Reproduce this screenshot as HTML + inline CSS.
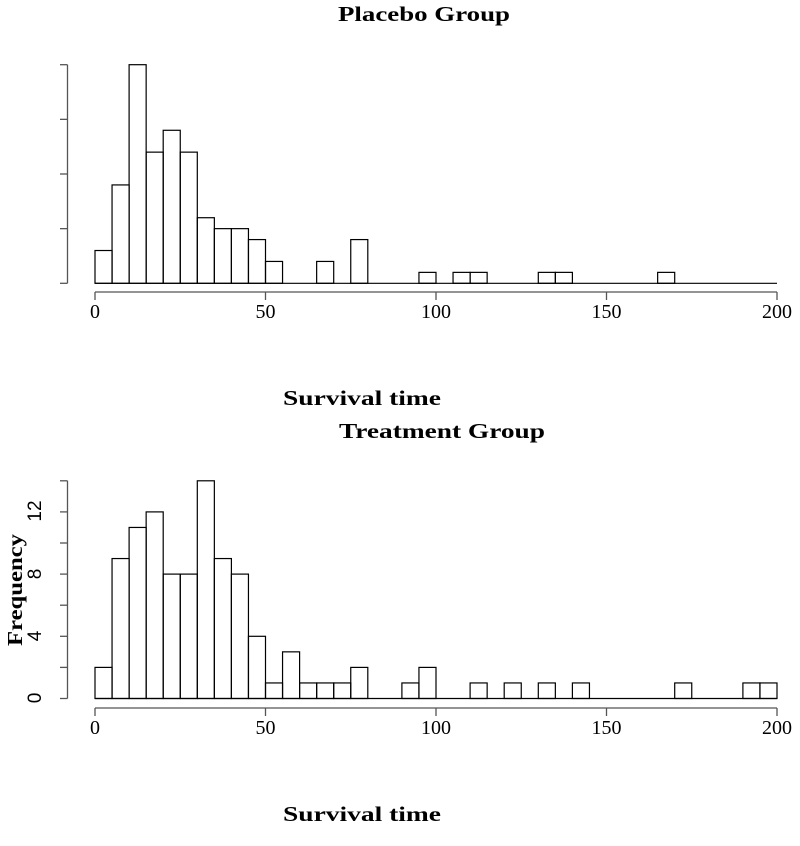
<!DOCTYPE html>
<html><head><meta charset="utf-8"><style>body{margin:0;background:#fff}svg{display:block}</style></head>
<body>
<svg id="s" width="800" height="846" xmlns="http://www.w3.org/2000/svg" font-family="Liberation Serif, serif">
<g font-weight="bold" font-size="21" text-anchor="middle">
<text x="424" y="21" textLength="172" lengthAdjust="spacingAndGlyphs">Placebo Group</text>
<text x="362" y="405" textLength="158" lengthAdjust="spacingAndGlyphs">Survival time</text>
<text x="442" y="438" textLength="206" lengthAdjust="spacingAndGlyphs">Treatment Group</text>
<text x="362" y="821" textLength="158" lengthAdjust="spacingAndGlyphs">Survival time</text>
<text transform="translate(22,590) rotate(-90)" textLength="112" lengthAdjust="spacingAndGlyphs">Frequency</text>
</g>
<g id="g" fill="none" stroke="#000" stroke-width="1.2"></g>
<g id="ax" stroke="#555" stroke-width="1.3" fill="none"></g>
<g id="t" font-size="20" text-anchor="middle"></g>
<g font-family="Liberation Sans, sans-serif" font-size="19" text-anchor="middle">
<text transform="translate(41,698) rotate(-90)">0</text>
<text transform="translate(41,636) rotate(-90)">4</text>
<text transform="translate(41,574) rotate(-90)">8</text>
<text transform="translate(41,511) rotate(-90)">12</text>
</g>
</svg>
<script>
(function(){
var g=document.getElementById('g'),ax=document.getElementById('ax'),t=document.getElementById('t');
function add(p,tag,a){var e=document.createElementNS('http://www.w3.org/2000/svg',tag);for(var k in a)e.setAttribute(k,a[k]);p.appendChild(e);return e;}
var x0=95,bw=17.05;
function hist(vals,base,unit){vals.forEach(function(v,i){if(v>0)add(g,'rect',{x:x0+i*bw,y:base-v*unit,width:bw,height:v*unit});});}
var topv=[3,9,20,12,14,12,6,5,5,4,2,0,0,2,0,4,0,0,0,1,0,1,1,0,0,0,1,1,0,0,0,0,0,1,0,0,0,0,0,0];
var botv=[2,9,11,12,8,8,14,9,8,4,1,3,1,1,1,2,0,0,1,2,0,0,1,0,1,0,1,0,1,0,0,0,0,0,1,0,0,0,1,1];
hist(topv,283.3,10.93);hist(botv,698.5,15.55);
add(g,'line',{x1:95,y1:283.3,x2:777,y2:283.3});add(g,'line',{x1:95,y1:698.5,x2:777,y2:698.5});
function xaxis(y){add(ax,'line',{x1:95,y1:y,x2:777,y2:y});[0,50,100,150,200].forEach(function(v){var x=95+v*3.41;add(ax,'line',{x1:x,y1:y,x2:x,y2:y+8});var e=add(t,'text',{x:x,y:y+26});e.textContent=v;});}
xaxis(292);xaxis(708);
function yaxis(a,b,n){add(ax,'line',{x1:67.5,y1:a,x2:67.5,y2:b});for(var i=0;i<n;i++){var y=a+(b-a)*i/(n-1);add(ax,'line',{x1:60,y1:y,x2:67.5,y2:y});}}
yaxis(64.7,283.3,5);yaxis(480.8,698.5,8);
})();
</script>
</body></html>
